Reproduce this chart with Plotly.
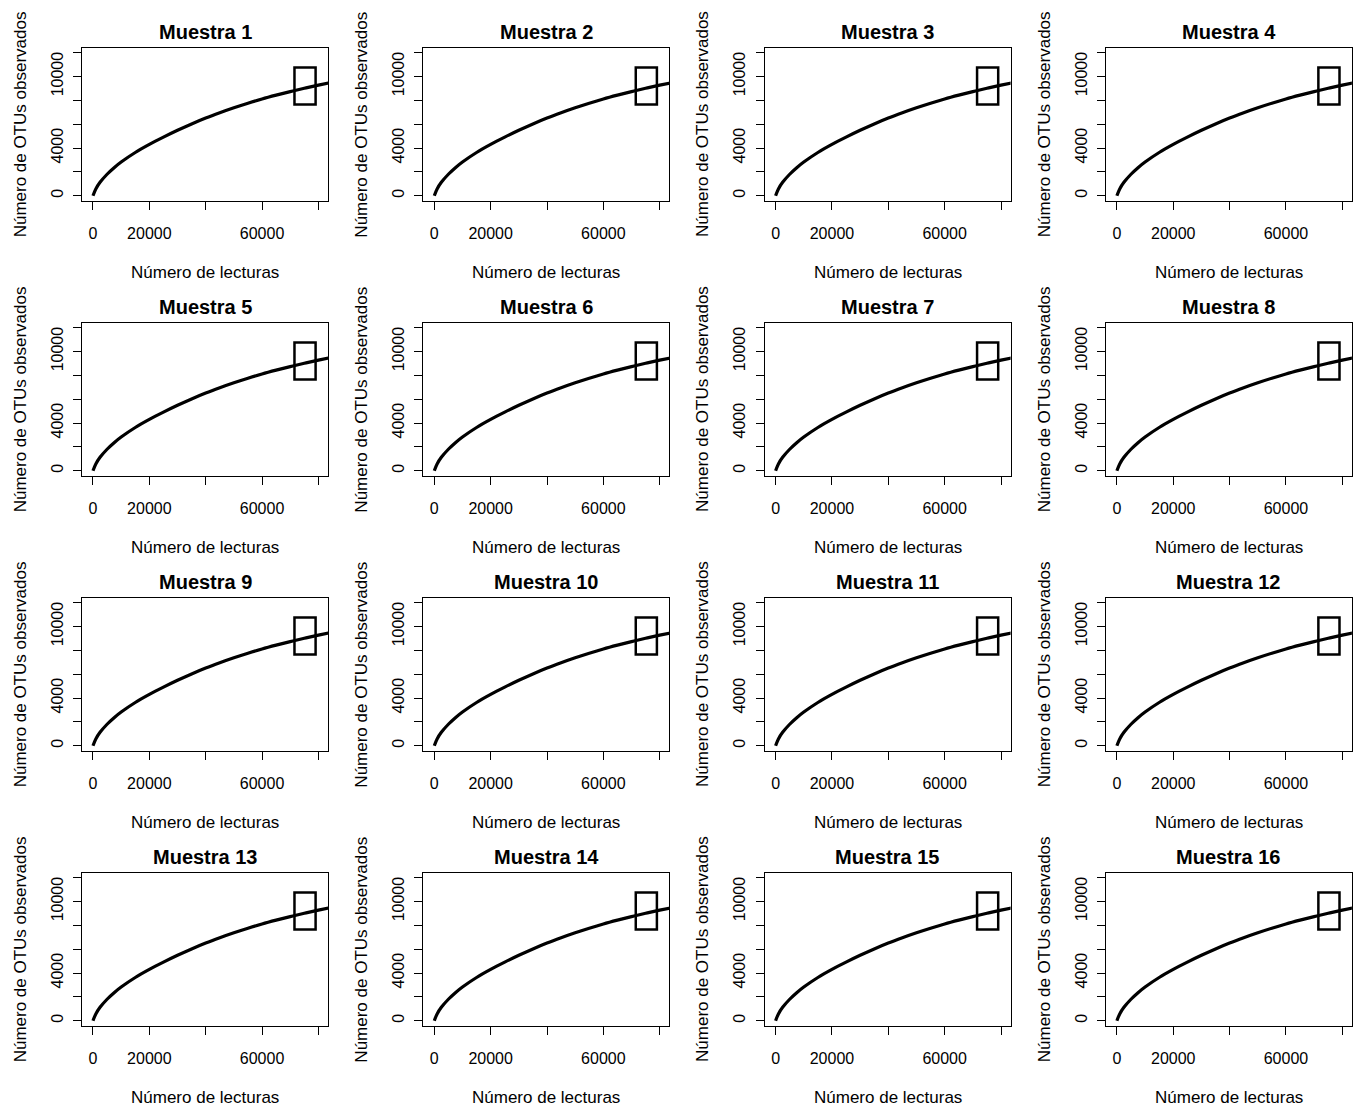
import plotly.graph_objects as go

# ---- data ----
SAMPLES = [f"Muestra {i}" for i in range(1, 17)]
READS = [0, 1000, 2500, 5000, 7500, 10000, 15000, 20000, 25000, 30000, 35000,
         40000, 45000, 50000, 55000, 60000, 65000, 70000, 75000, 80000, 85000]
OTUS_OBSERVED = [0, 570, 1125, 1800, 2350, 2825, 3625, 4300, 4910, 5485, 6020,
                 6515, 6960, 7375, 7760, 8115, 8435, 8735, 9015, 9275, 9520]
X_TICKS = [0, 20000, 40000, 60000, 80000]
X_TICK_TEXT = ["0", "20000", "", "60000", ""]
Y_TICKS = [0, 2000, 4000, 6000, 8000, 10000, 12000]
Y_TICK_TEXT = ["0", "", "4000", "", "", "10000", ""]
HIGHLIGHT_READS = (71500, 79000)
HIGHLIGHT_OTUS = (7650, 10750)
X_LABEL = "Número de lecturas"
Y_LABEL = "Número de OTUs observados"

# ---- layout geometry (pixels) ----
W, H = 1359, 1109
BOX_W, BOX_H = 246, 153.3
LEFT0, TOP0 = 82, 47.7
DX, DY = 341.3, 275
X_RANGE = [-3900, 83400]
Y_RANGE = [-445, 12417]
FONT = "Liberation Sans, Arial, sans-serif"

fig = go.Figure()
annotations = []
layout_axes = {}

for i, name in enumerate(SAMPLES):
    r, c = divmod(i, 4)
    left = LEFT0 + c * DX
    top = TOP0 + r * DY
    right = left + BOX_W
    bottom = top + BOX_H
    n = "" if i == 0 else str(i + 1)
    xa, ya = "x" + n, "y" + n

    fig.add_trace(go.Scatter(
        x=READS, y=OTUS_OBSERVED, mode="lines", line_shape="spline",
        line=dict(color="black", width=3.2), xaxis=xa, yaxis=ya,
        showlegend=False, hoverinfo="skip"))

    layout_axes["xaxis" + n] = dict(
        domain=[left / W, right / W], range=X_RANGE, anchor=ya,
        tickvals=X_TICKS, ticktext=X_TICK_TEXT, ticks="outside", ticklen=8,
        tickcolor="black", showline=True, mirror=True, linecolor="black",
        linewidth=1, showgrid=False, zeroline=False,
        tickfont=dict(size=16, color="black", family=FONT),
        ticklabelstandoff=10)
    layout_axes["yaxis" + n] = dict(
        domain=[1 - bottom / H, 1 - top / H], range=Y_RANGE, anchor=xa,
        tickvals=Y_TICKS, ticktext=Y_TICK_TEXT, ticks="outside", ticklen=8,
        tickcolor="black", showline=True, mirror=True, linecolor="black",
        linewidth=1, showgrid=False, zeroline=False, tickangle=-90,
        tickfont=dict(size=16, color="black", family=FONT),
        ticklabelstandoff=4)

    fig.add_shape(type="rect", xref=xa, yref=ya,
                  x0=HIGHLIGHT_READS[0], x1=HIGHLIGHT_READS[1],
                  y0=HIGHLIGHT_OTUS[0], y1=HIGHLIGHT_OTUS[1],
                  line=dict(color="black", width=2.5))

    cx = (left + right) / 2
    cy = (top + bottom) / 2
    annotations.append(dict(
        text=f"<b>{name}</b>", x=cx / W, y=1 - (top - 16) / H,
        xref="paper", yref="paper", showarrow=False, xanchor="center",
        yanchor="middle", font=dict(size=20, color="black", family=FONT)))
    annotations.append(dict(
        text=X_LABEL, x=cx / W, y=1 - (bottom + 71.5) / H,
        xref="paper", yref="paper", showarrow=False, xanchor="center",
        yanchor="middle", font=dict(size=17, color="black", family=FONT)))
    annotations.append(dict(
        text=Y_LABEL, x=(left - 62) / W, y=1 - cy / H, textangle=-90,
        xref="paper", yref="paper", showarrow=False, xanchor="center",
        yanchor="middle", font=dict(size=17, color="black", family=FONT)))

fig.update_layout(
    width=W, height=H, margin=dict(l=0, r=0, t=0, b=0),
    paper_bgcolor="white", plot_bgcolor="white",
    annotations=annotations, **layout_axes)

fig.write_html(
    "out.html",
    config={"displayModeBar": False},
    post_script="document.body.style.margin='0';"
                "document.body.style.overflow='hidden';")
